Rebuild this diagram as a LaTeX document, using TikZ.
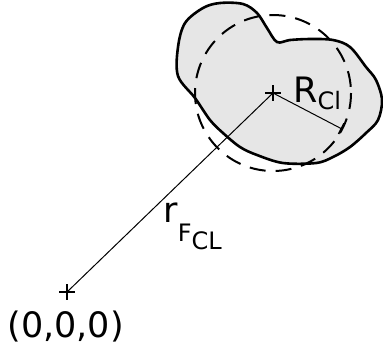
\documentclass[tikz,border=0pt]{standalone}
\usepackage{fontspec}
\setmainfont{DejaVu Sans}
\usetikzlibrary{arrows.meta}
\definecolor{blobfill}{RGB}{230,230,230}
\newcommand{\mainsize}{\fontsize{17.5}{20}\selectfont}
\newcommand{\subsize}{\fontsize{12}{14}\selectfont}
\tikzset{
  lbl/.style={inner sep=0pt, anchor=base west, font=\mainsize},
  crossmark/.style={line width=1pt},
}

\begin{document}
\begin{tikzpicture}[x=0.5pt, y=-0.5pt]
    \useasboundingbox (0,0) rectangle (383,350);
    % cluster outline and its sphere
    \filldraw[fill=blobfill, line width=1.3pt, line join=round]
      plot[smooth cycle, tension=0.55] coordinates {
        (178,47) (185,23) (203,8) (220,3) (243,4) (257,13) (267,28) (277,42)
        (290,40) (310,39) (333,40) (350,47) (366,67) (376,80) (382,100)
        (378,120) (366,133) (350,147) (333,157) (316,163) (283,163) (257,155)
        (240,147) (223,133) (210,120) (195,98) (178,76)};
    \coordinate (O) at (67,292);
    \coordinate (C) at (273,93);
    \coordinate (Rend) at (342,129);
    \draw[line width=1pt, dash pattern=on 8pt off 5pt] (C) circle[radius=78];
    % markers
    \draw[crossmark] (O) +(-8,0) -- +(8,0) (O) +(0,-8) -- +(0,8);
    \draw[crossmark] (C) +(-8,0) -- +(8,0) (C) +(0,-8) -- +(0,8);
    % vectors
    \draw[line width=0.5pt] (O) -- (C);
    \draw[line width=0.5pt, -{Bar[width=6pt, line width=0.8pt]}] (C) -- (Rend);
    % labels
    \node[lbl] (rcl) at (293,102) {R\raisebox{-3.5pt}{\subsize Cl}};
    \node[lbl] (rfcl) at (163,222) {r\raisebox{-9.5pt}{\subsize F\raisebox{-4pt}{CL}}};
    \node[lbl] (orig) at (7,337) {(0,0,0)};
  \end{tikzpicture}
\end{document}
